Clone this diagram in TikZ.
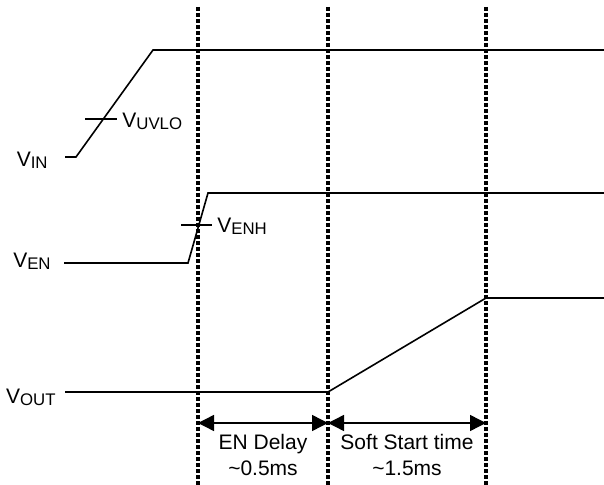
\documentclass[tikz,border=0pt]{standalone}
\usepackage{fontspec}
\setmainfont{Liberation Sans}
\usetikzlibrary{arrows.meta}

\newcommand{\sigv}[1]{V\raisebox{-1pt}{\fontsize{8.4}{10}\selectfont #1}}
\tikzstyle{wave}=[draw=black, line width=0.8pt, line join=miter]
\tikzstyle{tick}=[draw=black, line width=0.8pt]
\tikzstyle{marker}=[draw=black, line width=1.6pt, dash pattern=on 2pt off 1pt]
\tikzstyle{dbedge}=[{Triangle[length=8pt,width=8pt]}-{Triangle[length=8pt,width=8pt]}, draw=black, line width=0.7pt]
\tikzstyle{siglabel}=[
  inner sep=0pt,
  font=\fontsize{10.5}{13}\selectfont,
]
\tikzstyle{span}=[
  siglabel,
  align=center,
  anchor=north,
]

\begin{document}
\begin{tikzpicture}[x=0.5pt, y=-0.5pt]
      \useasboundingbox (0,0) rectangle (604,485);

      % time markers
      \foreach \name/\x in {ten/198,tss/328,tpg/486} {
        \coordinate (\name top) at (\x,7);
        \coordinate (\name bot) at (\x,485);
        \draw[marker] (\name top) -- (\name bot);
      }

      % VIN
      \node[siglabel, anchor=base east] (vin) at (48,167) {\sigv{IN}};
      \draw[wave] (65,157) -- (76,157) -- (153,50) -- (604,50);
      \draw[tick] (85,119) -- (117,119);
      \node[siglabel, anchor=base west] (vuvlo) at (122,128) {\sigv{UVLO}};

      % VEN
      \node[siglabel, anchor=base east] (ven) at (51,268) {\sigv{EN}};
      \draw[wave] (64,263) -- (188,263) -- (208,193) -- (604,193);
      \draw[tick] (181,225) -- (212,225);
      \node[siglabel, anchor=base west] (venh) at (217,233) {\sigv{ENH}};

      % VOUT
      \node[siglabel, anchor=base east] (vout) at (56,404) {\sigv{OUT}};
      \draw[wave] (65,392) -- (328,392) -- (486,298) -- (604,298);

      % delays
      \coordinate (aen) at (198,423);
      \coordinate (ass) at (328,423);
      \coordinate (apg) at (486,423);
      \draw[dbedge] (aen) -- (ass);
      \draw[dbedge] (ass) -- (apg);
      \node[span] (endelay) at (263,434) {EN Delay\\\textasciitilde0.5ms};
      \node[span] (sstime) at (407,434) {Soft Start time\\\textasciitilde1.5ms};
\end{tikzpicture}
\end{document}
